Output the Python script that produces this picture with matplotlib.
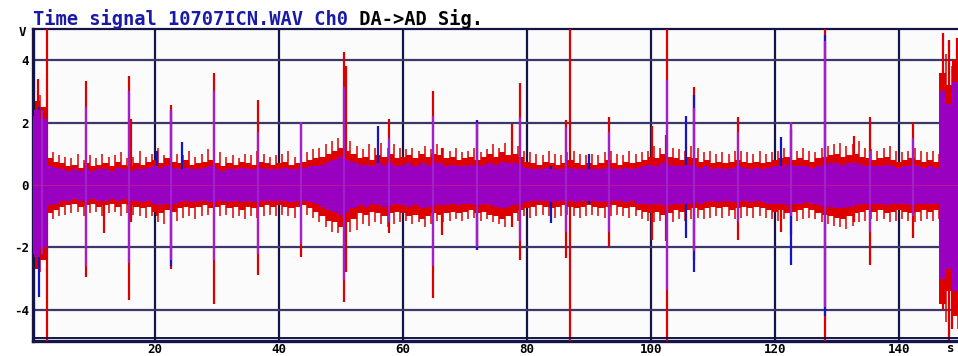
import numpy as np
import matplotlib
matplotlib.use("Agg")
import matplotlib.pyplot as plt

# ---------------- data ----------------
env_t = np.arange(0, 151)          # seconds, band envelope sample times
fringe_t = np.arange(0.5, 150, 1)  # seconds, fringe sample times

red_top = [2.6, 2.7, 2.5, 0.85, 0.75, 0.7, 0.6, 0.65, 0.55, 0.7,
           0.6, 0.65, 0.7, 0.6, 0.75, 0.65, 0.6, 0.7, 0.65, 0.75,
           0.8, 0.7, 0.85, 0.75, 0.7, 0.8, 0.65, 0.7, 0.75, 0.8,
           0.7, 0.6, 0.7, 0.65, 0.75, 0.7, 0.65, 0.75, 0.7, 0.65,
           0.7, 0.75, 0.65, 0.7, 0.75, 0.8, 0.85, 0.9, 1.0, 1.1,
           1.2, 1.1, 1.0, 0.85, 0.9, 0.8, 0.95, 0.9, 1.0, 0.85,
           0.9, 0.95, 0.85, 1.0, 0.9, 1.0, 0.95, 0.85, 0.9, 0.8,
           0.85, 0.9, 0.8, 0.9, 1.0, 0.9, 1.05, 0.95, 1.0, 0.9,
           0.75, 0.7, 0.65, 0.75, 0.7, 0.65, 0.7, 0.8, 0.7, 0.65,
           0.7, 0.65, 0.7, 0.8, 0.7, 0.65, 0.75, 0.7, 0.75, 0.8,
           0.9, 0.85, 1.0, 0.9, 0.85, 0.8, 0.9, 0.85, 0.75, 0.8,
           0.7, 0.75, 0.7, 0.75, 0.8, 0.75, 0.7, 0.75, 0.7, 0.75,
           0.8, 0.85, 0.9, 0.8, 0.85, 0.8, 0.75, 0.85, 0.9, 0.95,
           1.0, 0.9, 0.95, 1.0, 0.9, 0.85, 0.8, 0.85, 0.9, 0.8,
           0.75, 0.8, 0.85, 0.8, 0.75, 0.8, 0.75, 3.6, 3.2, 4.0,
           3.5]
red_bot = [-2.6, -2.7, -2.4, -0.9, -0.8, -0.7, -0.65, -0.6, -0.7, -0.65,
           -0.6, -0.7, -0.65, -0.6, -0.7, -0.6, -0.65, -0.7, -0.75, -0.7,
           -0.85, -0.9, -0.8, -0.85, -0.75, -0.7, -0.75, -0.7, -0.65, -0.75,
           -0.7, -0.65, -0.75, -0.7, -0.8, -0.7, -0.75, -0.7, -0.65, -0.7,
           -0.65, -0.7, -0.75, -0.7, -0.65, -0.75, -0.85, -1.0, -1.15, -1.2,
           -1.35, -1.2, -1.1, -0.9, -0.95, -0.85, -0.9, -1.0, -0.9, -0.85,
           -0.9, -1.0, -0.95, -1.1, -1.0, -0.9, -0.95, -0.9, -0.85, -0.9,
           -0.85, -0.8, -0.9, -0.85, -0.95, -1.0, -1.1, -1.0, -0.9, -0.8,
           -0.75, -0.7, -0.65, -0.7, -0.75, -0.7, -0.65, -0.7, -0.75, -0.7,
           -0.65, -0.7, -0.75, -0.7, -0.65, -0.7, -0.75, -0.7, -0.8, -0.85,
           -0.9, -0.85, -0.95, -0.9, -0.8, -0.85, -0.8, -0.75, -0.8, -0.75,
           -0.7, -0.75, -0.7, -0.8, -0.75, -0.7, -0.75, -0.7, -0.75, -0.8,
           -0.85, -0.8, -0.9, -0.85, -0.8, -0.75, -0.8, -0.9, -0.95, -1.0,
           -1.05, -1.1, -1.0, -0.9, -0.85, -0.8, -0.85, -0.8, -0.9, -0.85,
           -0.8, -0.85, -0.9, -0.85, -0.8, -0.85, -0.8, -3.8, -3.4, -4.2,
           -3.6]
mag_top = [2.2, 2.4, 2.1, 0.6, 0.55, 0.5, 0.45, 0.5, 0.45, 0.5,
           0.45, 0.5, 0.5, 0.45, 0.55, 0.5, 0.45, 0.5, 0.5, 0.55,
           0.6, 0.55, 0.6, 0.55, 0.5, 0.55, 0.5, 0.5, 0.55, 0.6,
           0.5, 0.45, 0.5, 0.5, 0.55, 0.5, 0.5, 0.55, 0.5, 0.5,
           0.5, 0.55, 0.5, 0.5, 0.55, 0.6, 0.6, 0.65, 0.75, 0.8,
           0.9, 0.8, 0.75, 0.65, 0.65, 0.6, 0.7, 0.65, 0.7, 0.6,
           0.65, 0.7, 0.6, 0.7, 0.65, 0.7, 0.7, 0.6, 0.65, 0.6,
           0.6, 0.65, 0.6, 0.65, 0.7, 0.65, 0.75, 0.7, 0.7, 0.65,
           0.55, 0.5, 0.5, 0.55, 0.5, 0.5, 0.5, 0.55, 0.5, 0.5,
           0.5, 0.5, 0.5, 0.55, 0.5, 0.5, 0.55, 0.5, 0.55, 0.6,
           0.65, 0.6, 0.7, 0.65, 0.6, 0.6, 0.65, 0.6, 0.55, 0.6,
           0.5, 0.55, 0.5, 0.55, 0.6, 0.55, 0.5, 0.55, 0.5, 0.55,
           0.6, 0.6, 0.65, 0.6, 0.6, 0.6, 0.55, 0.6, 0.65, 0.7,
           0.7, 0.65, 0.7, 0.7, 0.65, 0.6, 0.6, 0.6, 0.65, 0.6,
           0.55, 0.6, 0.6, 0.6, 0.55, 0.6, 0.55, 3.0, 2.6, 3.3,
           2.9]
mag_bot = [-2.2, -2.3, -2.0, -0.65, -0.6, -0.5, -0.5, -0.45, -0.5, -0.5,
           -0.45, -0.5, -0.5, -0.45, -0.5, -0.45, -0.5, -0.5, -0.55, -0.5,
           -0.6, -0.65, -0.6, -0.6, -0.55, -0.5, -0.55, -0.5, -0.5, -0.55,
           -0.5, -0.5, -0.55, -0.5, -0.55, -0.5, -0.55, -0.5, -0.5, -0.5,
           -0.5, -0.5, -0.55, -0.5, -0.5, -0.55, -0.6, -0.7, -0.8, -0.85,
           -0.95, -0.85, -0.75, -0.65, -0.7, -0.6, -0.65, -0.7, -0.65, -0.6,
           -0.65, -0.7, -0.65, -0.75, -0.7, -0.65, -0.65, -0.65, -0.6, -0.65,
           -0.6, -0.6, -0.65, -0.6, -0.65, -0.7, -0.75, -0.7, -0.65, -0.6,
           -0.55, -0.5, -0.5, -0.5, -0.55, -0.5, -0.5, -0.5, -0.55, -0.5,
           -0.5, -0.5, -0.55, -0.5, -0.5, -0.5, -0.55, -0.5, -0.6, -0.6,
           -0.65, -0.6, -0.65, -0.65, -0.6, -0.6, -0.6, -0.55, -0.6, -0.55,
           -0.5, -0.55, -0.5, -0.55, -0.55, -0.5, -0.55, -0.5, -0.55, -0.6,
           -0.6, -0.6, -0.65, -0.6, -0.6, -0.55, -0.6, -0.65, -0.7, -0.7,
           -0.75, -0.75, -0.7, -0.65, -0.6, -0.6, -0.6, -0.6, -0.65, -0.6,
           -0.6, -0.6, -0.65, -0.6, -0.6, -0.6, -0.6, -3.0, -2.7, -3.4,
           -2.9]

fringe_hi = [3.0, 2.9, 2.2, 1.05, 0.95, 0.9, 0.85, 1.0, 0.8, 0.95,
             0.85, 1.0, 0.9, 0.95, 1.05, 0.85, 0.9, 1.1, 0.9, 1.0,
             1.2, 0.95, 1.1, 1.0, 0.95, 1.1, 0.9, 1.0, 1.15, 1.0,
             1.05, 0.9, 0.95, 0.85, 1.0, 0.95, 1.1, 1.0, 0.9, 0.95,
             1.0, 1.1, 0.9, 1.0, 1.05, 1.15, 1.2, 1.3, 1.4, 1.5,
             1.6, 1.4, 1.25, 1.15, 1.3, 1.2, 1.35, 1.2, 1.3, 1.2,
             1.15, 1.2, 1.1, 1.25, 1.15, 1.3, 1.2, 1.1, 1.2, 1.05,
             1.1, 1.2, 1.05, 1.15, 1.3, 1.2, 1.35, 1.2, 1.25, 1.1,
             1.05, 1.0, 0.95, 1.1, 1.0, 0.95, 1.05, 1.1, 1.0, 0.95,
             1.0, 0.95, 1.05, 1.1, 1.0, 0.95, 1.1, 1.0, 1.05, 1.1,
             1.25, 1.2, 1.3, 1.2, 1.15, 1.1, 1.25, 1.2, 1.05, 1.1,
             1.0, 1.05, 1.0, 1.1, 1.1, 1.05, 1.0, 1.1, 1.0, 1.05,
             1.1, 1.2, 1.25, 1.1, 1.2, 1.1, 1.05, 1.2, 1.25, 1.3,
             1.35, 1.25, 1.3, 1.4, 1.2, 1.15, 1.1, 1.2, 1.25, 1.1,
             1.05, 1.1, 1.2, 1.1, 1.05, 1.1, 1.0, 4.2, 3.8, 4.4]
fringe_lo = [-3.0, -2.8, -2.3, -1.1, -1.0, -0.95, -0.9, -0.85, -1.0, -0.9,
             -0.85, -1.0, -0.9, -0.85, -1.0, -0.9, -0.95, -1.0, -1.05, -1.0,
             -1.2, -1.25, -1.1, -1.15, -1.05, -1.0, -1.1, -1.0, -0.95, -1.05,
             -1.0, -0.95, -1.05, -1.0, -1.1, -1.0, -1.05, -1.0, -0.95, -1.0,
             -0.95, -1.0, -1.05, -1.0, -0.95, -1.05, -1.2, -1.35, -1.5, -1.55,
             -1.7, -1.5, -1.45, -1.25, -1.3, -1.2, -1.25, -1.35, -1.25, -1.2,
             -1.15, -1.25, -1.2, -1.35, -1.25, -1.15, -1.2, -1.15, -1.1, -1.15,
             -1.1, -1.05, -1.15, -1.1, -1.2, -1.25, -1.35, -1.25, -1.15, -1.0,
             -1.05, -1.0, -0.95, -1.0, -1.05, -1.0, -0.95, -1.0, -1.05, -1.0,
             -0.95, -1.0, -1.05, -1.0, -0.95, -1.0, -1.05, -1.0, -1.1, -1.15,
             -1.2, -1.15, -1.25, -1.2, -1.1, -1.15, -1.1, -1.05, -1.1, -1.05,
             -1.0, -1.05, -1.0, -1.1, -1.05, -1.0, -1.05, -1.0, -1.05, -1.1,
             -1.15, -1.1, -1.2, -1.15, -1.1, -1.05, -1.1, -1.2, -1.25, -1.3,
             -1.35, -1.4, -1.3, -1.2, -1.15, -1.1, -1.15, -1.1, -1.2, -1.15,
             -1.1, -1.15, -1.2, -1.15, -1.1, -1.15, -1.1, -4.4, -4.0, -4.6]

# spikes: time [s], upper [V], lower [V]
red_spike_t = [1.1, 2.6, 8.9, 11.8, 15.8, 16.1, 20.3, 22.5, 29.5, 36.6,
               43.5, 50.5, 50.8, 57.8, 64.8, 66.3, 71.9, 77.6, 78.9, 86.3,
               87.0, 93.2, 100.1, 102.4, 102.6, 106.9, 114.1, 121.0, 122.5, 128.1,
               132.7, 135.4, 142.3, 147.1, 148.0, 148.6, 149.3]
red_spike_hi = [3.4, 5.2, 3.33, 0.5, 3.5, 2.1, 0.5, 2.56, 3.58, 2.72,
                2.03, 4.25, 3.8, 2.1, 3.0, 1.2, 2.08, 1.95, 3.26, 2.08,
                5.2, 2.17, 1.89, 1.6, 5.2, 3.15, 2.19, 1.0, 2.03, 5.2,
                1.57, 2.17, 2.03, 4.87, 4.65, 3.0, 4.7]
red_spike_lo = [-2.6, -5.2, -2.94, -1.54, -3.7, -1.2, -1.0, -2.7, -3.8, -2.9,
                -2.3, -3.74, -2.8, -1.55, -3.63, -1.6, -2.08, -1.34, -2.4, -2.34,
                -5.2, -2.0, -1.76, -1.8, -5.2, -2.4, -1.76, -1.5, -1.6, -5.2,
                -1.2, -2.56, -1.7, -4.0, -4.97, -4.6, -4.2]

blue_spike_t = [1.3, 20.3, 22.5, 24.3, 56.0, 71.9, 83.8, 90.0, 105.6, 106.9,
                121.0, 122.5, 128.1]
blue_spike_hi = [2.5, 1.1, 2.4, 1.39, 1.89, 2.08, 0.6, 1.0, 2.2, 2.9,
                 1.55, 1.8, 4.8]
blue_spike_lo = [-3.6, -0.6, -2.6, -0.5, -0.5, -2.08, -1.22, -0.6, -1.7, -2.78,
                 -0.6, -2.56, -4.2]

mag_spike_t = [1.7, 8.9, 15.8, 22.5, 29.5, 36.6, 43.5, 50.5, 57.8, 64.8,
               71.9, 78.9, 86.3, 93.2, 102.6, 106.9, 114.1, 122.5, 128.1, 135.4,
               142.3]
mag_spike_hi = [2.4, 2.5, 3.0, 2.4, 3.0, 1.7, 2.03, 3.15, 1.5, 2.2,
                2.0, 2.19, 1.85, 1.7, 3.37, 2.46, 1.7, 2.03, 4.6, 1.1,
                1.5]
mag_spike_lo = [-2.2, -2.6, -2.5, -2.4, -2.4, -2.2, -1.9, -3.05, -1.2, -2.6,
                -2.0, -1.8, -1.5, -1.5, -3.37, -2.1, -1.2, -1.0, -3.9, -1.5,
                -1.0]

x_ticks = [20, 40, 60, 80, 100, 120, 140]
y_ticks = [-4, -2, 0, 2, 4]
y_tick_labels = ["-4", "-2", "0", "2", "4"]
title_blue = "Time signal 10707ICN.WAV Ch0"
title_black = " DA->AD Sig."

# ---------------- figure ----------------
W, H = 958, 356
fig = plt.figure(figsize=(W / 100, H / 100), dpi=100)
fig.patch.set_facecolor("white")

left_px, right_px, top_px, bot_px = 33, 962, 29, 341
ax = fig.add_axes([left_px / W, 1 - bot_px / H,
                   (right_px - left_px) / W, (bot_px - top_px) / H])
ax.set_facecolor("#fbfbfb")

px_per_s = 6.2
x0 = 0.32
ax.set_xlim(x0, x0 + (right_px - left_px) / px_per_s)
ax.set_ylim(-5, 5)

RED = "#dc0000"
MAG = "#9a00c0"
BLUE = "#1414c8"
NAVY = "#141446"

# band: red fringe + red body, then magenta core
ax.vlines(fringe_t, fringe_lo, fringe_hi, color=RED, lw=1.1, zorder=2)
ax.fill_between(env_t, red_bot, red_top, step="mid", color=RED, lw=0, zorder=2)
ax.fill_between(env_t, mag_bot, mag_top, step="mid", color=MAG, lw=0, zorder=4)

# spikes
ax.vlines(red_spike_t, red_spike_lo, red_spike_hi, color=RED, lw=1.6, zorder=3)
ax.vlines(blue_spike_t, blue_spike_lo, blue_spike_hi, color=BLUE, lw=1.6, zorder=3.5)
ax.vlines(mag_spike_t, mag_spike_lo, mag_spike_hi, color="#a020d0", lw=1.6, zorder=4.5)

ax.axhline(0, color="#d02070", lw=0.5, zorder=5)

# grid
ax.set_xticks(x_ticks)
ax.set_yticks(y_ticks)
ax.set_yticklabels(y_tick_labels)
ax.set_axisbelow(True)
ax.xaxis.grid(True, color=NAVY, lw=1.6, zorder=0)
ax.yaxis.grid(True, color="#3a3a6a", lw=1.6, zorder=0)
ax.tick_params(length=0)
mono = {"family": "DejaVu Sans Mono", "weight": "bold"}
for lab in ax.get_xticklabels() + ax.get_yticklabels():
    lab.set_fontfamily("DejaVu Sans Mono")
    lab.set_fontweight("bold")
    lab.set_fontsize(9)
ax.tick_params(axis="x", pad=1.5)
ax.tick_params(axis="y", pad=3)

for side in ["left", "bottom", "top"]:
    ax.spines[side].set_color(NAVY)
ax.spines["left"].set_linewidth(2.4)
ax.spines["bottom"].set_linewidth(2.4)
ax.spines["top"].set_linewidth(1.6)
ax.spines["right"].set_visible(False)
ax.plot([0, 1], [0.011, 0.011], transform=ax.transAxes, color=NAVY, lw=1.4,
        clip_on=False, zorder=6)

# unit labels
fig.text(22 / W, 1 - 32 / H, "V", ha="center", va="center", fontsize=9, **mono)
fig.text(951 / W, 1 - 348 / H, "s", ha="center", va="center", fontsize=9, **mono)

# title
t1 = fig.text(33 / W, 1 - 25 / H, title_blue, color="#1a1aa8", fontsize=13.5,
              ha="left", va="baseline", **mono)
ax.annotate(title_black, xy=(1, 0), xycoords=t1, va="bottom", ha="left",
            color="black", fontsize=13.5, annotation_clip=False, **mono)

fig.savefig("out.png", dpi=100)
